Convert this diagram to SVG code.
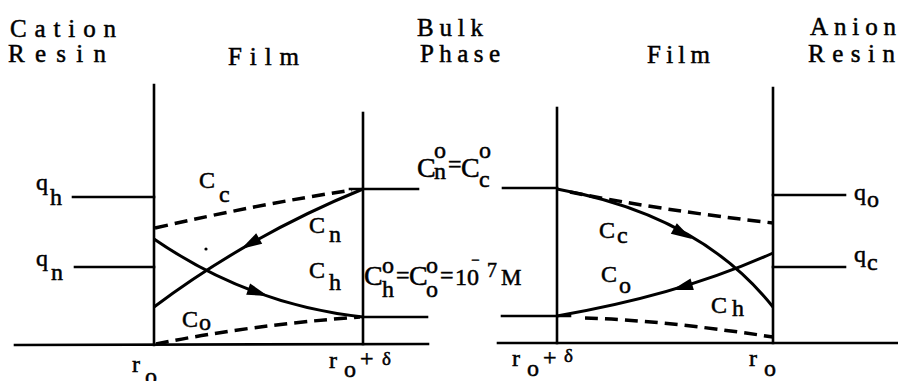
<svg xmlns="http://www.w3.org/2000/svg" width="898" height="381" viewBox="0 0 898 381">
<style>
.t{font-family:"Liberation Serif","DejaVu Serif",serif;font-size:24px;fill:#000;stroke:#000;stroke-width:0.5}
.h{font-size:25px}
.b{font-size:28px}
.s{font-size:19px}
.ln{stroke:#000;stroke-width:2.6;fill:none;stroke-linecap:square}
.cv{stroke:#000;stroke-width:3;fill:none}
.ds{stroke:#000;stroke-width:3.5;fill:none;stroke-dasharray:13 7}
</style>
<defs>
<path id="ah" d="M0,0 L-21,-6 L-21,6 Z" fill="#000"/>
</defs>
<rect width="898" height="381" fill="#fff"/>
<g id="headers">
<text class="t h" x="10" y="37" textLength="106" lengthAdjust="spacing">Cation</text>
<text class="t h" x="8" y="62" textLength="98" lengthAdjust="spacing">Resin</text>
<text class="t h" x="228" y="65" textLength="71" lengthAdjust="spacing">Film</text>
<text class="t h" x="417" y="36" textLength="66" lengthAdjust="spacing">Bulk</text>
<text class="t h" x="420" y="62" textLength="80" lengthAdjust="spacing">Phase</text>
<text class="t h" x="647" y="63" textLength="63" lengthAdjust="spacing">Film</text>
<text class="t h" x="810" y="35" textLength="86" lengthAdjust="spacing">Anion</text>
<text class="t h" x="808" y="62" textLength="87" lengthAdjust="spacing">Resin</text>
</g>
<g id="axes">
<line class="ln" x1="15" y1="345" x2="428" y2="344"/>
<line class="ln" x1="498" y1="343" x2="898" y2="343"/>
<line class="ln" x1="154" y1="85" x2="154" y2="345"/>
<line class="ln" x1="363" y1="113" x2="363" y2="344"/>
<line class="ln" x1="557" y1="108" x2="557" y2="343"/>
<line class="ln" x1="773" y1="88" x2="773" y2="343"/>
</g>
<g id="connectors">
<line class="ln" x1="73" y1="197" x2="154" y2="197"/>
<line class="ln" x1="75" y1="267" x2="154" y2="267"/>
<line class="ln" x1="350" y1="189" x2="418" y2="189"/>
<line class="ln" x1="363" y1="317" x2="427" y2="317"/>
<line class="ln" x1="503" y1="188" x2="557" y2="188"/>
<line class="ln" x1="502" y1="316" x2="570" y2="316"/>
<line class="ln" x1="773" y1="195" x2="845" y2="195"/>
<line class="ln" x1="773" y1="267" x2="845" y2="267"/>
<path class="ds" d="M155,228 Q260,204 352,190"/>
<path class="ds" d="M156,344 Q250,325 360,317"/>
<path class="ds" d="M570,192 Q660,210 773,223"/>
<path class="ds" d="M585,318 Q660,320 773,337"/>
<path class="cv" d="M363,189 Q250,235 154,307"/>
<path class="cv" d="M154,239 Q250,305 363,317"/>
<path class="cv" d="M557,189 Q700,215 773,307"/>
<path class="cv" d="M773,253 Q680,295 557,316"/>
<use href="#ah" transform="translate(241,249) rotate(150)"/>
<use href="#ah" transform="translate(268,296) rotate(19)"/>
<use href="#ah" transform="translate(692,239) rotate(30)"/>
<use href="#ah" transform="translate(672,290) rotate(164)"/>
<circle cx="206" cy="249" r="1.6" fill="#000"/>
</g>
<g id="left-labels">
<text class="t" x="36" y="190">q</text><text class="t" x="50" y="205">h</text>
<text class="t" x="36" y="266">q</text><text class="t" x="51" y="280">n</text>
<text class="t" x="199" y="188">C</text><text class="t" x="219" y="202">c</text>
<text class="t" x="309" y="233">C</text><text class="t" x="329" y="242">n</text>
<text class="t" x="309" y="278">C</text><text class="t" x="329" y="290">h</text>
<text class="t" x="182" y="327">C</text><text class="t" x="199" y="330">o</text>
<text class="t" x="132" y="372">r</text><text class="t" x="145" y="384">o</text>
<text class="t" x="329" y="368">r</text><text class="t" x="344" y="377">o</text><text class="t" x="360" y="366">+</text><text class="t s" x="382" y="365">δ</text>
</g>
<g id="bulk-labels">
<text class="t b" x="417" y="177">C</text><text class="t" x="434" y="158">o</text><text class="t" x="434" y="179">n</text>
<text class="t" x="448" y="172">=</text>
<text class="t b" x="461" y="177">C</text><text class="t" x="479" y="158">o</text><text class="t" x="479" y="187">c</text>
<text class="t b" x="364" y="285">C</text><text class="t" x="382" y="273">o</text><text class="t" x="382" y="297">h</text>
<text class="t" x="396" y="283">=</text>
<text class="t b" x="409" y="285">C</text><text class="t" x="426" y="273">o</text><text class="t" x="426" y="297">o</text>
<text class="t" x="440" y="283">=</text>
<text class="t" x="455" y="285">1</text><text class="t" x="467" y="285">0</text><text class="t" x="471" y="265" style="font-size:15px">−</text>
<text class="t" x="487" y="277" style="font-size:20px">7</text>
<text class="t" x="501" y="285" style="font-size:23px">M</text>
</g>
<g id="right-labels">
<text class="t" x="599" y="238">C</text><text class="t" x="617" y="243">c</text>
<text class="t" x="601" y="282">C</text><text class="t" x="619" y="293">o</text>
<text class="t" x="711" y="313">C</text><text class="t" x="732" y="316">h</text>
<text class="t" x="854" y="200">q</text><text class="t" x="867" y="207">o</text>
<text class="t" x="854" y="262">q</text><text class="t" x="867" y="270">c</text>
<text class="t" x="512" y="366">r</text><text class="t" x="527" y="376">o</text><text class="t" x="543" y="365">+</text><text class="t s" x="564" y="362">δ</text>
<text class="t" x="749" y="366">r</text><text class="t" x="764" y="376">o</text>
</g>
</svg>
